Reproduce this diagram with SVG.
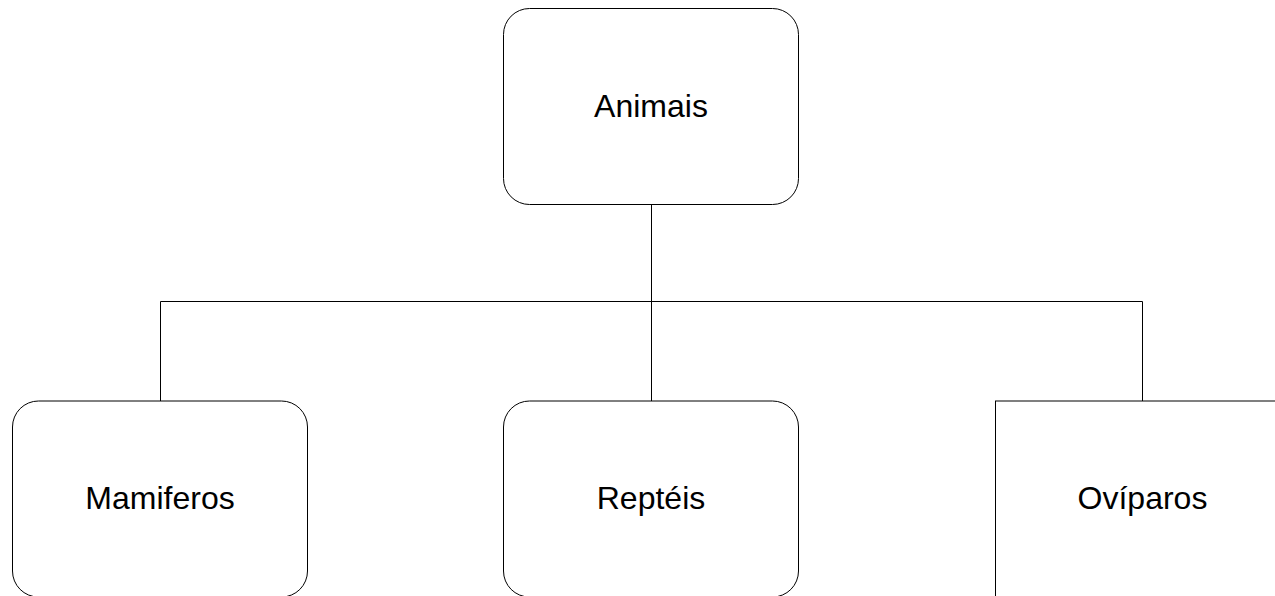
<svg xmlns="http://www.w3.org/2000/svg" width="1275" height="596" viewBox="0 0 1275 596">
<style>
.box{fill:#fff;stroke:#000;stroke-width:1}
.lbl{font-family:"Liberation Sans",Arial,sans-serif;font-size:32px;fill:#000;text-anchor:middle}
.conn{fill:none;stroke:#000;stroke-width:1}
</style>
<rect width="1275" height="596" fill="#fff"/>
<g id="connectors">
<path class="conn" d="M651.5 204.5V301.5M160.5 401V301.5H1142.5V401M651.5 301.5V401"/>
</g>
<g id="animais">
<rect class="box" x="503.5" y="8.5" width="295" height="196" rx="26" ry="26"/>
<text class="lbl" x="651" y="117">Animais</text>
</g>
<g id="mamiferos">
<rect class="box" x="12.5" y="401" width="295" height="196" rx="26" ry="26"/>
<text class="lbl" x="160" y="509">Mamiferos</text>
</g>
<g id="repteis">
<rect class="box" x="503.5" y="401" width="295" height="196" rx="26" ry="26"/>
<text class="lbl" x="651" y="509">Reptéis</text>
</g>
<g id="oviparos">
<rect class="box" x="995.5" y="401" width="295" height="196"/>
<text class="lbl" x="1142.5" y="509">Ovíparos</text>
</g>
</svg>
